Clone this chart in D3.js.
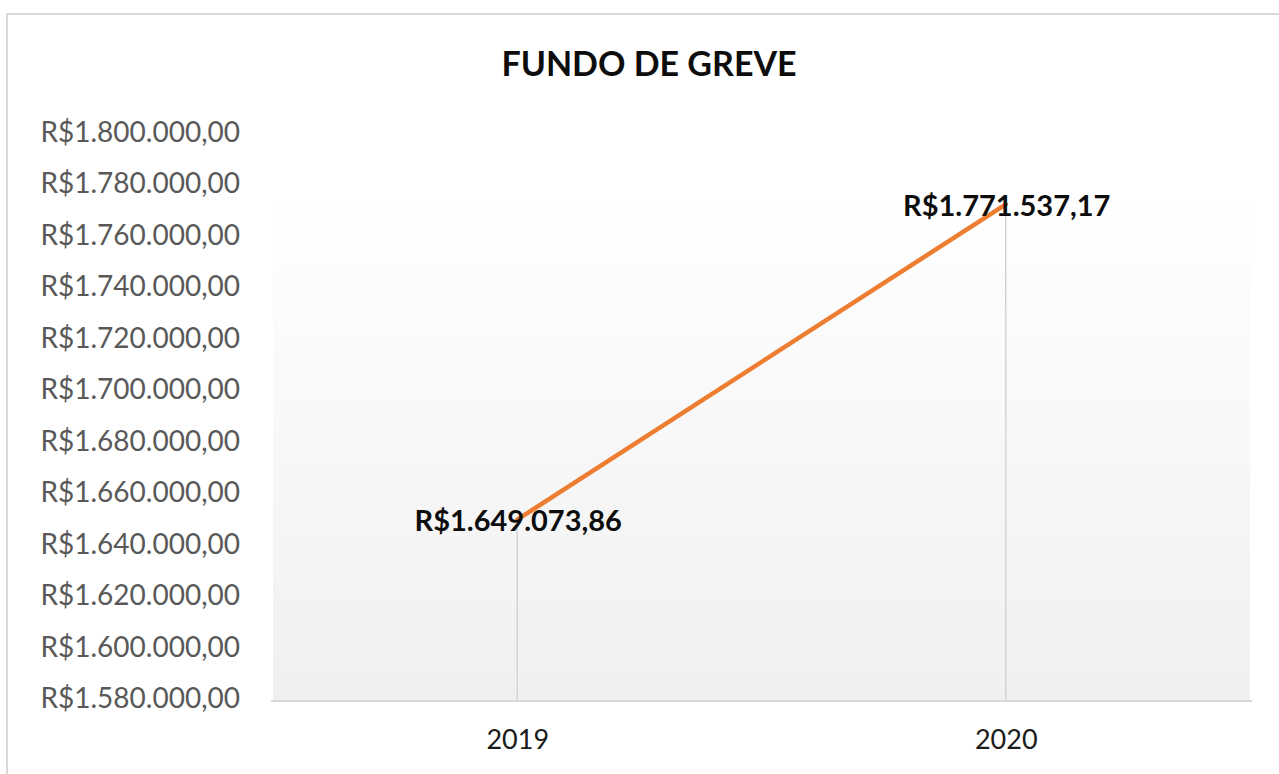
<!DOCTYPE html>
<html>
<head>
<meta charset="utf-8">
<script src="https://cdn.jsdelivr.net/npm/d3@7"></script>
<style>
  html, body { margin: 0; padding: 0; background: #fff; }
  svg { display: block; }
  text { font-family: Lato, "Open Sans", sans-serif; }
</style>
</head>
<body>
<svg id="chart" width="1279" height="774"></svg>
<script>
const years = ['2019', '2020'];
const values = [1649073.86, 1771537.17];
const valueLabels = ['R$1.649.073,86', 'R$1.771.537,17'];
const yTicks = [1580000, 1600000, 1620000, 1640000, 1660000, 1680000, 1700000,
  1720000, 1740000, 1760000, 1780000, 1800000];
const title = 'FUNDO DE GREVE';

const width = 1279;
const height = 774;
const plot = { left: 273, right: 1250, top: 197, bottom: 701 };

const svg = d3.select('#chart');

// chart frame (runs off the right and bottom edges)
svg.append('rect')
  .attr('x', 7).attr('y', 14)
  .attr('width', width + 20).attr('height', height + 20)
  .attr('fill', '#fff')
  .attr('stroke', '#d9d9d9')
  .attr('stroke-width', 2);

const grad = svg.append('defs').append('linearGradient')
  .attr('id', 'plotFill')
  .attr('x1', 0).attr('y1', 0).attr('x2', 0).attr('y2', 1);
grad.append('stop').attr('offset', '0%').attr('stop-color', '#ffffff');
grad.append('stop').attr('offset', '100%').attr('stop-color', '#f0f0f0');

svg.append('rect')
  .attr('x', plot.left).attr('y', plot.top)
  .attr('width', plot.right - plot.left)
  .attr('height', plot.bottom - plot.top)
  .attr('fill', 'url(#plotFill)');

const x = d3.scalePoint().domain(years).range([plot.left, plot.right]).padding(0.5);
const y = d3.scaleLinear().domain([1580000, 1800000]).range([697.5, 131]);

const fmt = (v) => 'R$' + d3.format(',.2f')(v).replace(/,/g, '#').replace('.', ',').replace(/#/g, '.');

// y axis labels
const yAxis = svg.append('g')
  .attr('transform', `translate(${plot.left - 33},0)`)
  .call(d3.axisLeft(y).tickValues(yTicks).tickSize(0).tickPadding(0).tickFormat(fmt));
yAxis.select('.domain').remove();
yAxis.selectAll('text')
  .attr('fill', '#595959')
  .style('font-size', '28px')
  .attr('dy', '0.36em');

// category axis line
svg.append('line')
  .attr('x1', plot.left - 2).attr('x2', plot.right + 2)
  .attr('y1', plot.bottom).attr('y2', plot.bottom)
  .attr('stroke', '#d9d9d9')
  .attr('stroke-width', 2);

const xAxis = svg.append('g')
  .attr('transform', `translate(0,${plot.bottom})`)
  .call(d3.axisBottom(x).tickSize(0).tickPadding(29));
xAxis.select('.domain').remove();
xAxis.selectAll('text')
  .attr('fill', '#1a1a1a')
  .style('font-size', '27px');

const points = years.map((d, i) => ({ year: d, value: values[i], label: valueLabels[i] }));

// drop lines
svg.append('g').selectAll('line')
  .data(points)
  .join('line')
  .attr('x1', (d) => x(d.year)).attr('x2', (d) => x(d.year))
  .attr('y1', (d) => y(d.value)).attr('y2', plot.bottom)
  .attr('stroke', '#d4d4d4')
  .attr('stroke-width', 1.5);

svg.append('path')
  .datum(points)
  .attr('fill', 'none')
  .attr('stroke', '#ed7d31')
  .attr('stroke-width', 4.5)
  .attr('stroke-linecap', 'round')
  .attr('d', d3.line().x((d) => x(d.year)).y((d) => y(d.value)));

svg.append('g').selectAll('text')
  .data(points)
  .join('text')
  .attr('x', (d) => x(d.year) + 1)
  .attr('y', (d) => y(d.value) + 1)
  .attr('dy', '0.36em')
  .attr('text-anchor', 'middle')
  .attr('fill', '#0d0d0d')
  .style('font-size', '29px')
  .style('font-weight', 'bold')
  .text((d) => d.label);

svg.append('text')
  .attr('x', 649)
  .attr('y', 76)
  .attr('text-anchor', 'middle')
  .attr('fill', '#0d0d0d')
  .style('font-size', '34px')
  .style('font-weight', 'bold')
  .text(title);
</script>
</body>
</html>
